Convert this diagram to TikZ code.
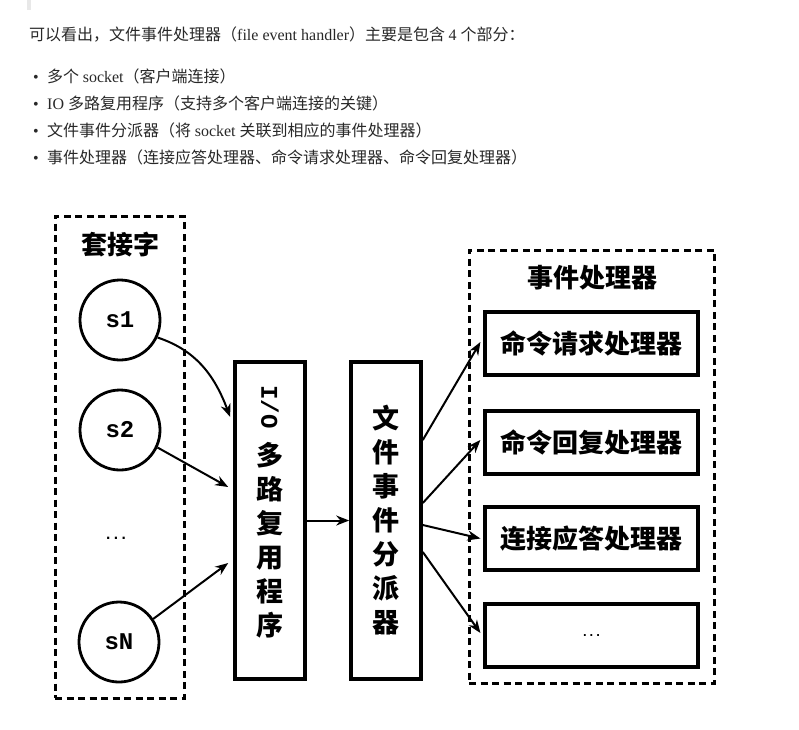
\documentclass[tikz,border=0pt]{standalone}
\usepackage{fontspec}
\setmainfont{Liberation Serif}
\newfontfamily\cjk{Noto Sans CJK SC}
\newfontfamily\lat{Liberation Serif}
\newfontfamily\mono{Liberation Mono}
\newfontfamily\dotfont{DejaVu Sans Mono}
\usetikzlibrary{arrows.meta,calc}
\definecolor{txt}{RGB}{40,40,40}
\definecolor{bar}{RGB}{232,232,232}
\begin{document}
\begin{tikzpicture}[x=1pt,y=-1pt,
  para/.style={anchor=base west, inner sep=0pt, text=txt, font=\fontsize{16}{18}\selectfont},
  group/.style={draw, line width=3pt, dash pattern=on 7pt off 4.5pt, inner sep=0pt},
  sock/.style={circle, draw, line width=2.8pt, minimum size=80pt, inner sep=0pt, font=\mono\bfseries\fontsize{24}{24}\selectfont},
  proc/.style={draw, line width=3.6pt, minimum width=70pt, minimum height=317pt, inner sep=0pt},
  handler/.style={draw, line width=3.2pt, minimum width=213pt, minimum height=63pt, inner sep=0pt, font=\cjk\bfseries\fontsize{26}{26}\selectfont},
  title/.style={font=\cjk\bfseries\fontsize{26}{26}\selectfont, inner sep=0pt},
  vtext/.style={font=\cjk\bfseries\fontsize{27}{34}\selectfont, align=center, inner sep=0pt},
  arr/.style={line width=2pt, -{Stealth[length=13pt,width=10pt]}},
]
\useasboundingbox (0,0) rectangle (799,729);
\fill[bar] (27,0) rectangle (31,10);

% intro text
\node[para] (l0) at (29,40) {\cjk 可以看出，文件事件处理器（\lat file event handler\cjk ）主要是包含 \lat 4 \cjk 个部分：};
\node[para] (d1) at (33,82) {\lat •};
\node[para] (t1) at (47,82) {\cjk 多个 \lat socket\cjk （客户端连接）};
\node[para] (d2) at (33,109) {\lat •};
\node[para] (t2) at (47,109) {\lat IO \cjk 多路复用程序（支持多个客户端连接的关键）};
\node[para] (d3) at (33,136) {\lat •};
\node[para] (t3) at (47,136) {\cjk 文件事件分派器（将 \lat socket \cjk 关联到相应的事件处理器）};
\node[para] (d4) at (33,163) {\lat •};
\node[para] (t4) at (47,163) {\cjk 事件处理器（连接应答处理器、命令请求处理器、命令回复处理器）};

% groups
\node[group, minimum width=129pt, minimum height=482pt] (sockets) at (119.5,457) {};
\node[group, minimum width=245pt, minimum height=433pt] (handlers) at (591.5,466.5) {};
\node[title] (socktitle) at (120,245) {套接字};
\node[title] (handtitle) at (592,278) {事件处理器};

% sockets
\node[sock] (s1) at (120,320) {s1};
\node[sock] (s2) at (120,430) {s2};
\node[font=\dotfont\bfseries\fontsize{13}{13}\selectfont, inner sep=0pt] (sdots) at (116,538) {...};
\node[sock] (sN) at (119,642) {sN};

% processors
\node[proc] (io) at (270,520.5) {};
\node[font=\mono\bfseries\fontsize{24}{24}\selectfont, rotate=-90, inner sep=0pt] (iolab) at (270,407) {I/O};
\node[vtext] (iotext) at (270,540) {多\\路\\复\\用\\程\\序};
\node[proc] (disp) at (386,520.5) {};
\node[vtext] (disptext) at (386,520.5) {文\\件\\事\\件\\分\\派\\器};

% handlers
\node[handler] (h1) at (591.5,343.5) {命令请求处理器};
\node[handler] (h2) at (591.5,442.5) {命令回复处理器};
\node[handler] (h3) at (591.5,538.5) {连接应答处理器};
\node[handler] (h4) at (591.5,635.5) {\dotfont\bfseries\fontsize{11}{11}\selectfont ...};

% arrows
\draw[arr] (s1.-25) .. controls (195,350) and (214,374) .. ([xshift=-3pt,yshift=103.5pt]io.west);
\draw[arr] (s2.-25) -- ([xshift=-5pt,yshift=33.5pt]io.west);
\draw[arr] (sN.34) -- ([xshift=-5pt,yshift=-42.5pt]io.west);
\draw[arr] (io.east) -- (disp.west);
\draw[arr] ([yshift=80.5pt]disp.east) -- ([xshift=-3pt,yshift=1.5pt]h1.west);
\draw[arr] ([yshift=17.5pt]disp.east) -- ([xshift=-3pt,yshift=2.5pt]h2.west);
\draw[arr] ([yshift=-4.5pt]disp.east) -- ([xshift=-3pt]h3.west);
\draw[arr] ([yshift=-31.5pt]disp.east) -- ([xshift=-3pt,yshift=2.5pt]h4.west);
\end{tikzpicture}
\end{document}
